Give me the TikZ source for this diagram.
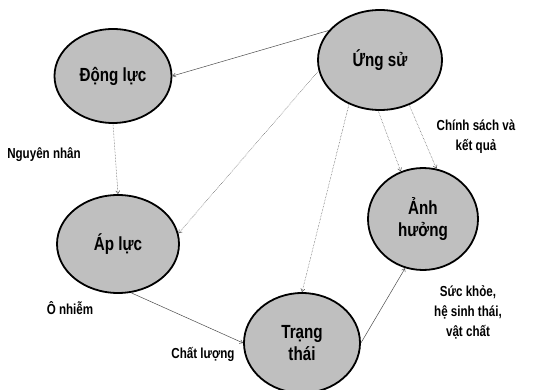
\documentclass[tikz,border=0pt]{standalone}
\usepackage{fontspec}
\setmainfont{Liberation Sans}[FakeStretch=0.8]
\usetikzlibrary{arrows.meta,shapes.geometric}
\begin{document}
\begin{tikzpicture}[x=1pt,y=-1pt,
  blob/.style={ellipse,draw=black,line width=1.8pt,fill=black!25,inner sep=0pt,align=center,font=\fontsize{19}{22}\selectfont\bfseries},
  lab/.style={align=center,font=\fontsize{14.5}{20}\selectfont\bfseries,inner sep=1pt},
  link/.style={draw=black!70,line width=0.5pt,-{Straight Barb[length=3pt,width=4pt]}},
  dlink/.style={link,densely dotted}]
\useasboundingbox (0,0) rectangle (543,390);
\node[blob,minimum width=117pt,minimum height=94pt] (dl) at (113,76) {Động lực};
\node[blob,minimum width=124pt,minimum height=100pt] (us) at (380,60) {Ứng sử};
\node[blob,minimum width=122pt,minimum height=98pt] (al) at (118,244) {Áp lực};
\node[blob,minimum width=110pt,minimum height=102pt] (ah) at (423,219) {Ảnh\\hưởng};
\node[blob,minimum width=116pt,minimum height=100pt] (tt) at (302,343) {Trạng\\thái};

\draw[link] (us.150) -- (dl.east);
\draw[dlink] (dl.south) -- (al.north);
\draw[dlink] (us.190) -- (al.10);
\draw[dlink] (us.235) -- (tt.north);
\draw[dlink] (us.268) -- (ah.115);
\draw[dlink] (us.303) -- (ah.75);
\draw[link] (al.285) -- (tt.west);
\draw[link] (tt.east) -- (ah.250);

\node[lab] (nn) at (44,155) {Nguyên nhân};
\node[lab] (cs) at (476,137) {Chính sách và\\kết quả};
\node[lab] (on) at (70,308) {Ô nhiễm};
\node[lab] (cl) at (203,354) {Chất lượng};
\node[lab] (sk) at (468,312) {Sức khỏe,\\hệ sinh thái,\\vật chất};
\end{tikzpicture}
\end{document}
